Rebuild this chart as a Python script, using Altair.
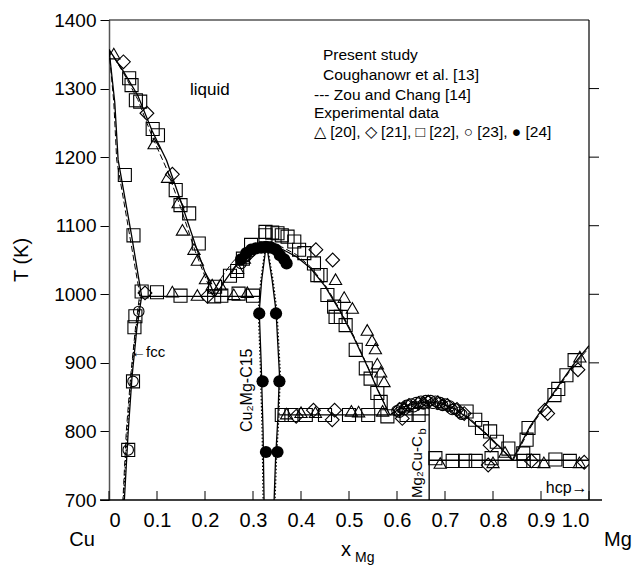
import altair as alt
import pandas as pd

FONT = "Liberation Sans"

# ---------------- tick values ----------------
x_ticks = [0.0, 0.1, 0.2, 0.3, 0.4, 0.5, 0.6, 0.7, 0.8, 0.9, 1.0]
t_ticks = [700, 800, 900, 1000, 1100, 1200, 1300, 1400]

# ---------------- calculated curves (present study, solid) ----------------
liq_cu_x = [0, 0.03, 0.06, 0.09, 0.12, 0.15, 0.18, 0.20, 0.221]
liq_cu_T = [1357, 1325, 1290, 1238, 1195, 1135, 1072, 1032, 997]
fcc_x = [0, 0.012, 0.019, 0.047, 0.068, 0.058, 0.048, 0.040, 0.032]
fcc_T = [1357, 1280, 1196, 1086, 997, 950, 880, 800, 700]
eut1_x = [0.068, 0.313]
eut1_T = [997, 997]
dome1_x = [0.221, 0.24, 0.26, 0.28, 0.30, 0.33, 0.36, 0.39, 0.42, 0.45, 0.48, 0.51, 0.54, 0.56, 0.585]
dome1_T = [997, 1018, 1038, 1055, 1065, 1070, 1066, 1055, 1038, 1012, 977, 937, 892, 860, 824]
c15_left_x = [0.327, 0.318, 0.313, 0.317, 0.321, 0.323]
c15_left_T = [1069, 1020, 975, 900, 800, 700]
c15_right_x = [0.329, 0.340, 0.348, 0.355, 0.352, 0.347, 0.344]
c15_right_T = [1069, 1020, 975, 885, 822, 760, 700]
eut2_x = [0.352, 0.667]
eut2_T = [824, 824]
mg2cu_x = [0.667, 0.667]
mg2cu_T = [700, 843]
dome2_x = [0.585, 0.61, 0.64, 0.667, 0.69, 0.72, 0.75, 0.78, 0.81, 0.84]
dome2_T = [824, 835, 841, 843, 841, 833, 818, 800, 780, 758]
eut3_x = [0.667, 1.0]
eut3_T = [758, 758]
liq_mg_x = [0.84, 0.877, 0.94, 0.967, 1.0]
liq_mg_T = [758, 807, 870, 897, 925]

# ---------------- Zou and Chang (dashed) ----------------
z_liq_x = [0, 0.03, 0.06, 0.09, 0.12, 0.15, 0.18, 0.20, 0.215]
z_liq_T = [1357, 1323, 1284, 1230, 1183, 1125, 1062, 1026, 1000]
z_fcc_x = [0, 0.010, 0.016, 0.043, 0.064, 0.055, 0.045, 0.036, 0.029]
z_fcc_T = [1357, 1280, 1196, 1086, 1000, 950, 880, 800, 700]
z_dome1_x = [0.215, 0.235, 0.255, 0.275, 0.30, 0.33, 0.36, 0.39, 0.42, 0.45, 0.48, 0.51, 0.54, 0.56, 0.585]
z_dome1_T = [1000, 1025, 1045, 1060, 1071, 1074, 1069, 1058, 1040, 1014, 979, 939, 893, 861, 824]
z_dome2_x = [0.585, 0.61, 0.64, 0.667, 0.69, 0.72, 0.75, 0.78, 0.81, 0.842]
z_dome2_T = [824, 836, 843, 845, 843, 835, 820, 801, 781, 758]
z_liq_mg_x = [0.842, 0.88, 0.94, 0.967, 1.0]
z_liq_mg_T = [758, 808, 868, 895, 922]

# ---------------- Coughanowr et al. (dotted) ----------------
c_left_x = [0.325, 0.316, 0.311, 0.315, 0.319, 0.321]
c_left_T = [1066, 1020, 975, 900, 800, 700]
c_right_x = [0.331, 0.342, 0.350, 0.357, 0.354, 0.349, 0.346]
c_right_T = [1066, 1020, 975, 885, 822, 760, 700]
c_fcc_x = [0.066, 0.056, 0.046, 0.038, 0.030]
c_fcc_T = [997, 950, 880, 800, 700]

# ---------------- experimental data ----------------
tri_x = [0.01, 0.094, 0.122, 0.144, 0.153, 0.177, 0.184, 0.201, 0.215,
         0.132, 0.184, 0.26, 0.288, 0.232, 0.268, 0.282,
         0.472, 0.490, 0.507, 0.538, 0.548, 0.555, 0.559, 0.566, 0.573,
         0.37, 0.40, 0.43, 0.505, 0.52, 0.57,
         0.615, 0.655, 0.695, 0.825,
         0.69, 0.80, 0.906, 0.98, 0.981]
tri_T = [1351, 1220, 1171, 1134, 1094, 1066, 1050, 1023, 1014,
         1004, 999, 1000, 1003, 1014, 1038, 1053,
         1022, 996, 980, 948, 933, 921, 899, 887, 873,
         826, 828, 828, 830, 829, 830,
         836, 843, 840, 770,
         754, 755, 755, 755, 909]

dia_x = [0.03, 0.079, 0.132, 0.075, 0.205, 0.29, 0.431, 0.466,
         0.39, 0.426, 0.465, 0.47, 0.611,
         0.605, 0.625, 0.645, 0.665, 0.685, 0.705, 0.725, 0.74,
         0.794, 0.79, 0.88, 0.99, 0.908, 0.914, 0.977]
dia_T = [1339, 1264, 1175, 1002, 997, 1058, 1065, 1050,
         822, 831, 817, 831, 819,
         832, 838, 841, 843, 842, 838, 832, 826,
         780, 751, 757, 755, 831, 826, 890]

sq_x = [0.042, 0.047, 0.056, 0.065, 0.091, 0.102, 0.139, 0.149, 0.167, 0.187, 0.221,
        0.033, 0.051, 0.055, 0.053, 0.05, 0.04,
        0.068, 0.10, 0.149, 0.219, 0.234, 0.27, 0.30,
        0.252, 0.267, 0.279, 0.296,
        0.326, 0.326, 0.34, 0.351, 0.36, 0.372, 0.386, 0.396, 0.407, 0.427, 0.434,
        0.441, 0.455, 0.469, 0.472, 0.483, 0.493, 0.514, 0.535, 0.545, 0.559, 0.566,
        0.36, 0.38, 0.41, 0.45, 0.50, 0.54, 0.58, 0.62, 0.645,
        0.745, 0.763, 0.777, 0.794, 0.808, 0.832,
        0.68, 0.716, 0.742, 0.764, 0.797, 0.864, 0.884, 0.93, 0.96,
        0.863, 0.87, 0.874, 0.928, 0.936, 0.953, 0.970]
sq_T = [1315, 1305, 1283, 1281, 1241, 1232, 1152, 1130, 1118, 1074, 1011,
        1174, 1086, 968, 952, 873, 773,
        1004, 1003, 998, 997, 998, 1001, 998,
        1027, 1034, 1052, 1072,
        1091, 1086, 1090, 1089, 1086, 1084, 1077, 1065, 1060, 1045, 1028,
        1028, 999, 982, 967, 967, 955, 919, 892, 877, 856, 843,
        824, 824, 824, 824, 824, 824, 822, 824, 824,
        829, 817, 805, 800, 785, 775,
        761, 757, 757, 757, 761, 757, 757, 759, 757,
        768, 788, 805, 853, 862, 882, 904]

circ_x = [0.062, 0.05, 0.04, 0.275, 0.285, 0.295,
          0.600, 0.61, 0.62, 0.63, 0.64, 0.65, 0.66, 0.67, 0.68, 0.69, 0.70, 0.71, 0.72, 0.73,
          0.605, 0.615, 0.635, 0.655, 0.675, 0.695, 0.715, 0.735]
circ_T = [975, 873, 773, 1045, 1055, 1062,
          830, 834, 838, 840, 842, 844, 845, 845, 844, 842, 840, 837, 833, 828,
          828, 832, 836, 840, 841, 838, 832, 825]

fill_x = [0.275, 0.286, 0.296, 0.306, 0.317, 0.327, 0.338, 0.348, 0.356, 0.365, 0.370,
          0.313, 0.348, 0.320, 0.355, 0.327, 0.351]
fill_T = [1051, 1060, 1065, 1067, 1068, 1069, 1068, 1065, 1057, 1051, 1045,
          972, 972, 873, 873, 770, 770]

# ---------------- build tables ----------------
def curves(groups):
    rows = []
    for gi, (xs, ts) in enumerate(groups):
        for k, (a, b) in enumerate(zip(xs, ts)):
            rows.append({"x": a, "T": b, "seg": gi, "ord": k})
    return pd.DataFrame(rows)

solid_df = curves([(liq_cu_x, liq_cu_T), (fcc_x, fcc_T), (eut1_x, eut1_T), (dome1_x, dome1_T),
                   (c15_left_x, c15_left_T), (c15_right_x, c15_right_T), (eut2_x, eut2_T),
                   (mg2cu_x, mg2cu_T), (dome2_x, dome2_T), (eut3_x, eut3_T), (liq_mg_x, liq_mg_T)])
dash_df = curves([(z_liq_x, z_liq_T), (z_fcc_x, z_fcc_T), (z_dome1_x, z_dome1_T),
                  (z_dome2_x, z_dome2_T), (z_liq_mg_x, z_liq_mg_T)])
dot_df = curves([(c_left_x, c_left_T), (c_right_x, c_right_T), (c_fcc_x, c_fcc_T)])

W, H = 480, 480
xs = alt.Scale(domain=[0, 1], nice=False, zero=False)
ys = alt.Scale(domain=[700, 1400], nice=False, zero=False)

x_axis = alt.Axis(values=x_ticks, ticks=False, domain=False, grid=False, title=None,
                  labelFont=FONT, labelFontSize=20, labelColor="black", labelPadding=10,
                  labelExpr="datum.value == 0 ? '0' : format(datum.value, '.1f')")
y_axis = alt.Axis(values=t_ticks, tickSize=9, tickColor="black", tickWidth=1, domainColor="#555",
                  domainWidth=1.5, grid=False, title=None, labelFont=FONT, labelFontSize=19,
                  labelColor="black", labelPadding=4, format="d")

X = alt.X("x:Q", scale=xs, axis=x_axis)
Y = alt.Y("T:Q", scale=ys, axis=y_axis)

def line_layer(df, dash, width):
    kw = dict(color="black", strokeWidth=width, clip=True)
    if dash:
        kw["strokeDash"] = dash
    return alt.Chart(df).mark_line(**kw).encode(x=X, y=Y, detail="seg:N", order="ord:Q")

solid = line_layer(solid_df, None, 1.3)
dashed = line_layer(dash_df, [6, 3], 1.0)
dotted = line_layer(dot_df, [1.5, 2], 1.2)

def pts(xv, tv, shape, filled, size):
    df = pd.DataFrame({"x": xv, "T": tv})
    m = alt.Chart(df).mark_point(shape=shape, filled=filled, size=size, strokeWidth=1.1,
                                 color="black", opacity=1, clip=True)
    return m.encode(x=X, y=Y)

tri = pts(tri_x, tri_T, "triangle-up", False, 150)
dia = pts(dia_x, dia_T, "diamond", False, 190)
sq = pts(sq_x, sq_T, "square", False, 170)
circ = pts(circ_x, circ_T, "circle", False, 110)
fill = pts(fill_x, fill_T, "circle", True, 150)

# frame and ticks
one = pd.DataFrame({"a": [0]})
frame_top = alt.Chart(one).mark_rule(color="black", strokeWidth=1.2).encode(
    x=alt.value(0), x2=alt.value(W), y=alt.value(0))
frame_right = alt.Chart(one).mark_rule(color="black", strokeWidth=1.2).encode(
    x=alt.value(W), y=alt.value(0), y2=alt.value(H))
frame_bottom = alt.Chart(one).mark_rule(color="black", strokeWidth=1.4).encode(
    x=alt.value(-9), x2=alt.value(W + 13), y=alt.value(H))
xt_df = pd.DataFrame({"x": x_ticks})
bottom_ticks = alt.Chart(xt_df).mark_rule(color="black", strokeWidth=1).encode(
    x=X, y=alt.value(H), y2=alt.value(H - 9))
yt_df = pd.DataFrame({"T": t_ticks[1:-1]})
right_ticks = alt.Chart(yt_df).mark_rule(color="black", strokeWidth=1).encode(
    y=Y, x=alt.value(W), x2=alt.value(W + 10))

# annotations in data space
def dtext(txt, xv, tv, size=16, angle=0, align="center", baseline="middle"):
    df = pd.DataFrame({"x": [xv], "T": [tv], "s": [txt]})
    return alt.Chart(df).mark_text(font=FONT, fontSize=size, angle=angle, align=align,
                                   baseline=baseline, color="black").encode(x=X, y=Y, text="s:N")

def ptext(txt, px, py, size=16, angle=0, align="left", baseline="middle"):
    df = pd.DataFrame({"s": [txt]})
    return alt.Chart(df).mark_text(font=FONT, fontSize=size, angle=angle, align=align,
                                   baseline=baseline, color="black").encode(
        x=alt.value(px), y=alt.value(py), text="s:N")

ann = [
    dtext("liquid", 0.21, 1298, 17),
    dtext("←fcc", 0.046, 916, 15, align="left"),
    dtext("Cu₂Mg-C15", 0.287, 860, 16, angle=270),
    dtext("Mg₂Cu-C", 0.641, 748, 15, angle=270),
    dtext("b", 0.655, 800, 11, angle=270),
    dtext("hcp→", 0.997, 717, 16, align="right"),
    ptext("Present study", 214, 35, 15.5),
    ptext("Coughanowr et al. [13]", 214, 55, 15.5),
    ptext("--- Zou and Chang [14]", 205, 75, 15.5),
    ptext("Experimental data", 205, 93, 15.5),
    ptext("△ [20], ◇ [21], □ [22], ○ [23], ● [24]", 205, 112, 15.5),
    ptext("Cu", -27, 520, 20, align="center"),
    ptext("Mg", 509, 520, 20, align="center"),
    ptext("x", 237, 530, 20, align="center"),
    ptext("Mg", 246, 538, 14, align="left"),
    ptext("T (K)", -87, 240, 20, angle=270, align="center"),
]

chart = alt.layer(solid, dashed, dotted, sq, tri, dia, circ, fill,
                  frame_top, frame_right, frame_bottom, bottom_ticks, right_ticks, *ann
                  ).properties(
    width=W, height=H,
    padding={"left": 109, "top": 20, "right": 47, "bottom": 67},
    autosize=alt.AutoSizeParams(type="none"),
    background="white",
).configure_view(stroke=None)

chart.save("out.html", embed_options={"renderer": "svg", "actions": False})
